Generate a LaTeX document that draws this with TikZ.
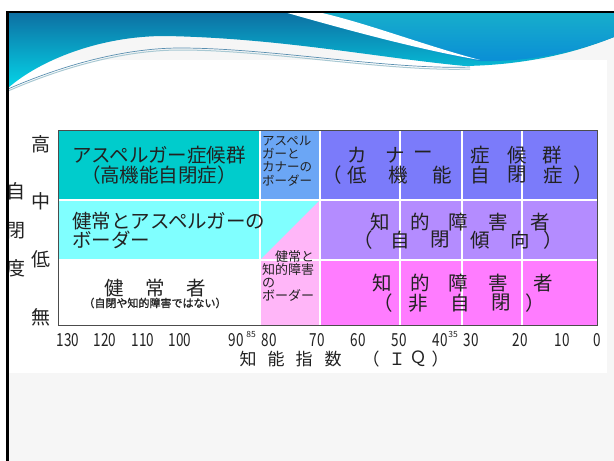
\documentclass[tikz,border=0pt]{standalone}
\usepackage{fontspec}
\usepackage{graphicx}
\setmainfont{Noto Sans CJK JP}
\newfontfamily\jpbold[FakeBold=1.2]{Noto Sans CJK JP}
\definecolor{cTeal}{HTML}{00CCCC}
\definecolor{cLtBlue}{HTML}{6BA6F5}
\definecolor{cViolet}{HTML}{7B7BFA}
\definecolor{cCyan}{HTML}{80FFFF}
\definecolor{cPinkLt}{HTML}{FFB6F8}
\definecolor{cLav}{HTML}{B48CFF}
\definecolor{cMag}{HTML}{FF7CFF}
\definecolor{cText}{HTML}{222222}
\definecolor{cSlide}{HTML}{F6F6F6}
\definecolor{cWaveTop}{HTML}{0D6FA2}
\definecolor{cWaveBot}{HTML}{05D5E8}
\definecolor{cRightTop}{HTML}{17AECB}
\definecolor{cRightBot}{HTML}{0A8ED6}
\definecolor{cLine}{HTML}{5A8FB0}
\definecolor{cLine2}{HTML}{A9C9D3}
\tikzset{
  txt/.style={inner sep=0pt, text=cText},
  big/.style={txt, font=\fontsize{19.5}{20}\selectfont},
  axl/.style={txt, font=\fontsize{19}{19}\selectfont},
  small/.style={txt, font=\fontsize{12.5}{13.3}\selectfont, align=left, anchor=west},
  num/.style={txt, font=\fontsize{18}{18}\selectfont},
  sup/.style={txt, font=\fontsize{8.5}{8.5}\selectfont},
  ttl/.style={txt, font=\fontsize{17}{17}\selectfont},
  gridline/.style={white, line width=1.2pt},
}
\begin{document}
\begin{tikzpicture}[x=1pt,y=-1pt]
\useasboundingbox (0,0) rectangle (614,461);
\fill[white] (0,0) rectangle (614,461);
\fill[cSlide] (8,12) rectangle (614,461);
\fill[white] (8,60) rectangle (607,373);
% ---- top wave ----
\shade[top color=cWaveTop, bottom color=cWaveBot]
  (8,12) -- (614,12) -- (614,37) .. controls (570,55) and (520,65) .. (465,66)
  .. controls (380,58) and (280,38) .. (165,36)
  .. controls (100,36) and (40,60) .. (8,88) -- cycle;
\shade[top color=cRightTop, bottom color=cRightBot]
  (284,12) .. controls (340,28) and (420,50) .. (480,61)
  .. controls (530,62) and (575,52) .. (614,37) -- (614,12) -- cycle;
\fill[white]
  (284,12) .. controls (340,28) and (420,50) .. (480,60)
  .. controls (420,44) and (370,24) .. (318,12) -- cycle;
\draw[cLine2, line width=1pt] (8,91) .. controls (70,64) and (130,50) .. (180,50)
  .. controls (270,50) and (390,72) .. (470,69);
\draw[cLine, line width=0.7pt] (8,89) .. controls (70,62) and (130,48) .. (180,48)
  .. controls (270,48) and (390,70) .. (470,67);
% ---- chart cells ----
\fill[cTeal] (58,130) rectangle (260,200);
\fill[cLtBlue] (260,130) rectangle (320,200);
\fill[cViolet] (320,130) rectangle (597,200);
\fill[cCyan] (58,200) rectangle (320,260);
\fill[cPinkLt] (260,260) -- (320,200) -- (320,260) -- cycle;
\fill[cLav] (320,200) rectangle (597,260);
\fill[white] (58,260) rectangle (260,325);
\fill[cPinkLt] (260,260) rectangle (320,325);
\fill[cMag] (320,260) rectangle (597,325);
\draw[gridline] (58,200) -- (597,200);
\draw[gridline] (58,260) -- (597,260);
\foreach \gx in {260,320,400,462,522} \draw[gridline] (\gx,130) -- (\gx,325);
\draw[draw=black!70, line width=1pt] (58,130) rectangle (597,325);
% ---- cell texts ----
\node[big, align=center] (asp) at (159,165) {アスペルガー症候群\\（高機能自閉症）};
\node[small] (askn) at (262,161) {アスペル\\ガーと\\カナーの\\ボーダー};
\foreach \c/\x [count=\i] in {カ/357,ナ/395,ー/423,症/480,候/517,群/552}
  \node[big] (kanA\i) at (\x,155) {\c};
\foreach \c/\x [count=\i] in {（/332,低/357,機/398,能/442,自/480,閉/517,症/553,）/583}
  \node[big] (kanB\i) at (\x,175) {\c};
\node[big, align=left, anchor=west, font=\fontsize{19.5}{15}\selectfont] (kasp) at (72,230) {健常とアスペルガーの\\ボーダー};
\foreach \c/\x [count=\i] in {知/380,的/420,障/458,害/498,者/540}
  \node[big] (chiA\i) at (\x,222) {\c};
\foreach \c/\x [count=\i] in {（/363,自/400,閉/440,傾/480,向/520,）/553}
  \node[big] (chiB\i) at (\x,240) {\c};
\node[small, font=\fontsize{13}{13}\selectfont] (kchi) at (262,276) {　健常と\\知的障害\\の\\ボーダー};
\foreach \c/\x [count=\i] in {健/114,常/155,者/196}
  \node[big] (ken\i) at (\x,288) {\c};
\node[txt, font=\jpbold\fontsize{11}{11}\selectfont] (kennote) at (155,303) {（自閉や知的障害ではない）};
\foreach \c/\x [count=\i] in {知/382,的/420,障/458,害/498,者/543}
  \node[big] (hiA\i) at (\x,283) {\c};
\foreach \c/\x [count=\i] in {（/383,非/418,自/460,閉/501,）/535}
  \node[big] (hiB\i) at (\x,303) {\c};
% ---- vertical axis ----
\node[axl] (lvHigh) at (41,144) {高};
\node[axl] (lvMid) at (41,201) {中};
\node[axl] (lvLow) at (41,259) {低};
\node[axl] (lvNone) at (41,317) {無};
\node[axl] (vt1) at (16,191) {自};
\node[axl] (vt2) at (16,231) {閉};
\node[axl] (vt3) at (16,268) {度};
% ---- horizontal axis ----
\foreach \v/\x [count=\i] in {130/68,120/105,110/143,100/180,90/236,80/269,70/317,60/358,50/399,40/440,30/471,20/520,10/562,0/597}
  \node[num] (iq\i) at (\x,340) {\scalebox{0.75}[1]{\v}};
\node[sup] (s85) at (251,334) {85};
\node[sup] (s35) at (453,334) {35};
\foreach \c/\x [count=\i] in {知/248,能/276,指/304,数/333,（/371,Ｉ/397,Ｑ/418,）/440}
  \node[ttl] (ttl\i) at (\x,359) {\c};
% ---- slide frame ----
\draw[black, line width=2.5pt] (7.5,461) -- (7.5,12) -- (614,12);
\end{tikzpicture}
\end{document}
